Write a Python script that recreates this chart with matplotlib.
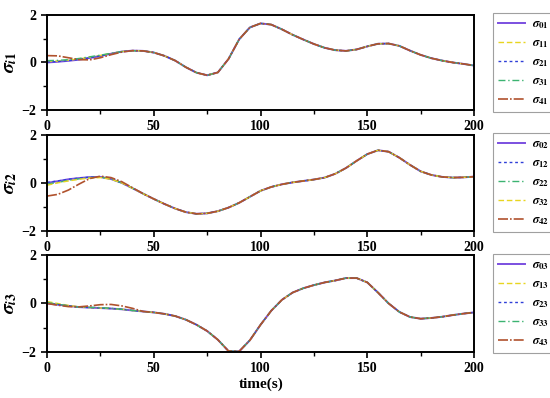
import matplotlib
matplotlib.use("Agg")
import matplotlib.pyplot as plt

plt.rcParams['font.family'] = ['Liberation Serif', 'DejaVu Serif']
plt.rcParams['font.weight'] = 'bold'
plt.rcParams['mathtext.fontset'] = 'stix'

t = [0, 5, 10, 15, 20, 25, 30, 35, 40, 45, 50, 55, 60, 65, 70, 75, 80, 85, 90, 95, 100,
     105, 110, 115, 120, 125, 130, 135, 140, 145, 150, 155, 160, 165, 170, 175, 180, 185, 190, 195, 200]

# panel 1
s01 = [0, 0.03, 0.07, 0.12, 0.19, 0.27, 0.37, 0.46, 0.5, 0.49, 0.42, 0.28, 0.08, -0.2, -0.43, -0.54, -0.42, 0.15, 0.98, 1.48, 1.65,
       1.6, 1.4, 1.17, 0.97, 0.78, 0.62, 0.52, 0.49, 0.55, 0.68, 0.79, 0.8, 0.7, 0.5, 0.32, 0.18, 0.08, 0.0, -0.06, -0.13]
s11_start = [0.05, 0.06, 0.1, 0.15, 0.22, 0.3, 0.38, 0.46, 0.5]
s21_start = [0.02, 0.04, 0.08, 0.13, 0.2, 0.28, 0.37, 0.46, 0.5]
s31_start = [0.08, 0.09, 0.12, 0.17, 0.24, 0.31, 0.39, 0.46, 0.5]
s41_start = [0.29, 0.28, 0.2, 0.12, 0.11, 0.2, 0.33, 0.44, 0.5]

# panel 2
s02 = [0, 0.07, 0.15, 0.2, 0.24, 0.25, 0.16, 0.0, -0.22, -0.45, -0.67, -0.88, -1.07, -1.22, -1.29, -1.27, -1.18, -1.03, -0.83, -0.58, -0.33,
       -0.17, -0.06, 0.02, 0.08, 0.14, 0.22, 0.38, 0.62, 0.92, 1.2, 1.36, 1.3, 1.05, 0.75, 0.48, 0.33, 0.25, 0.22, 0.23, 0.26]
s12_start = [0.02, 0.08, 0.15, 0.2, 0.24, 0.25, 0.16, 0.0, -0.22]
s22_start = [-0.05, 0.02, 0.1, 0.17, 0.22, 0.24, 0.17, 0.0, -0.22]
s32_start = [-0.1, 0.0, 0.08, 0.15, 0.2, 0.22, 0.15, 0.0, -0.22]
s42_start = [-0.55, -0.48, -0.3, -0.05, 0.18, 0.28, 0.22, 0.05, -0.2]

# panel 3
s03 = [0, -0.05, -0.1, -0.15, -0.17, -0.19, -0.21, -0.24, -0.29, -0.33, -0.37, -0.43, -0.52, -0.67, -0.88, -1.14, -1.5, -1.97, -1.98, -1.52, -0.88,
       -0.3, 0.15, 0.45, 0.63, 0.76, 0.87, 0.95, 1.05, 1.05, 0.87, 0.45, 0.0, -0.35, -0.56, -0.63, -0.6, -0.55, -0.48, -0.42, -0.37]
s13_start = [0.08, 0.0, -0.08, -0.14, -0.17, -0.19, -0.21, -0.24, -0.29]
s23_start = [0.02, -0.04, -0.1, -0.15, -0.17, -0.19, -0.21, -0.24, -0.29]
s33_start = [0.04, -0.03, -0.1, -0.15, -0.16, -0.17, -0.2, -0.24, -0.29]
s43_start = [0.0, -0.07, -0.13, -0.14, -0.1, -0.05, -0.04, -0.1, -0.2]

purple = '#7B4FE0'
yellow = '#E8D520'
blue = '#2F3FD8'
green = '#3CB371'
brown = '#B0522D'

styles = {
    'p': dict(color=purple, ls='-', lw=1.4),
    'y': dict(color=yellow, ls=(0, (4, 2)), lw=1.0),
    'b': dict(color=blue, ls=(0, (2, 2)), lw=1.0),
    'g': dict(color=green, ls=(0, (5, 2, 1, 2)), lw=1.0),
    'r': dict(color=brown, ls=(0, (6, 1.2, 1, 1.2)), lw=1.2),
}

panels = [
    (r'$\sigma_{i1}$', s01, [('y', s11_start, r'$\sigma_{11}$'), ('b', s21_start, r'$\sigma_{21}$'),
                            ('g', s31_start, r'$\sigma_{31}$'), ('r', s41_start, r'$\sigma_{41}$')], r'$\sigma_{01}$'),
    (r'$\sigma_{i2}$', s02, [('b', s12_start, r'$\sigma_{12}$'), ('g', s22_start, r'$\sigma_{22}$'),
                            ('y', s32_start, r'$\sigma_{32}$'), ('r', s42_start, r'$\sigma_{42}$')], r'$\sigma_{02}$'),
    (r'$\sigma_{i3}$', s03, [('y', s13_start, r'$\sigma_{13}$'), ('b', s23_start, r'$\sigma_{23}$'),
                            ('g', s33_start, r'$\sigma_{33}$'), ('r', s43_start, r'$\sigma_{43}$')], r'$\sigma_{03}$'),
]

fig = plt.figure(figsize=(5.5, 3.98), dpi=100)
boxes = [(0.0855, 0.724, 0.7765, 0.238), (0.0855, 0.420, 0.7765, 0.241), (0.0855, 0.116, 0.7765, 0.243)]

for (ylab, lead, followers, lead_lab), box in zip(panels, boxes):
    ax = fig.add_axes(box)
    ax.plot(t, lead, label=lead_lab, **styles['p'])
    for key, start, lab in followers:
        ys = start + lead[len(start):]
        ax.plot(t, ys, label=lab, **styles[key])
    ax.set_xlim(0, 200)
    ax.set_ylim(-2, 2)
    ax.set_xticks([0, 50, 100, 150, 200])
    ax.set_xticks([25, 75, 125, 175], minor=True)
    ax.set_yticks([-2, 0, 2])
    ax.set_yticks([-1, 1], minor=True)
    ax.tick_params(labelsize=10, width=1.2, length=4)
    ax.tick_params(which='minor', width=1.0, length=3)
    for sp in ax.spines.values():
        sp.set_linewidth(1.4)
    ax.set_ylabel(ylab, fontsize=14, labelpad=2)
    leg = ax.legend(loc='center left', bbox_to_anchor=(1.035, 0.5), fontsize=9,
                    frameon=True, fancybox=False, edgecolor='#888888', handlelength=2.2,
                    labelspacing=0.5, borderpad=0.4, handletextpad=0.5, borderaxespad=0.3)
    leg.get_frame().set_linewidth(0.8)

fig.text(0.474, 0.025, 'time(s)', ha='center', fontsize=11, fontweight='bold')

plt.savefig('out.png', dpi=100)
